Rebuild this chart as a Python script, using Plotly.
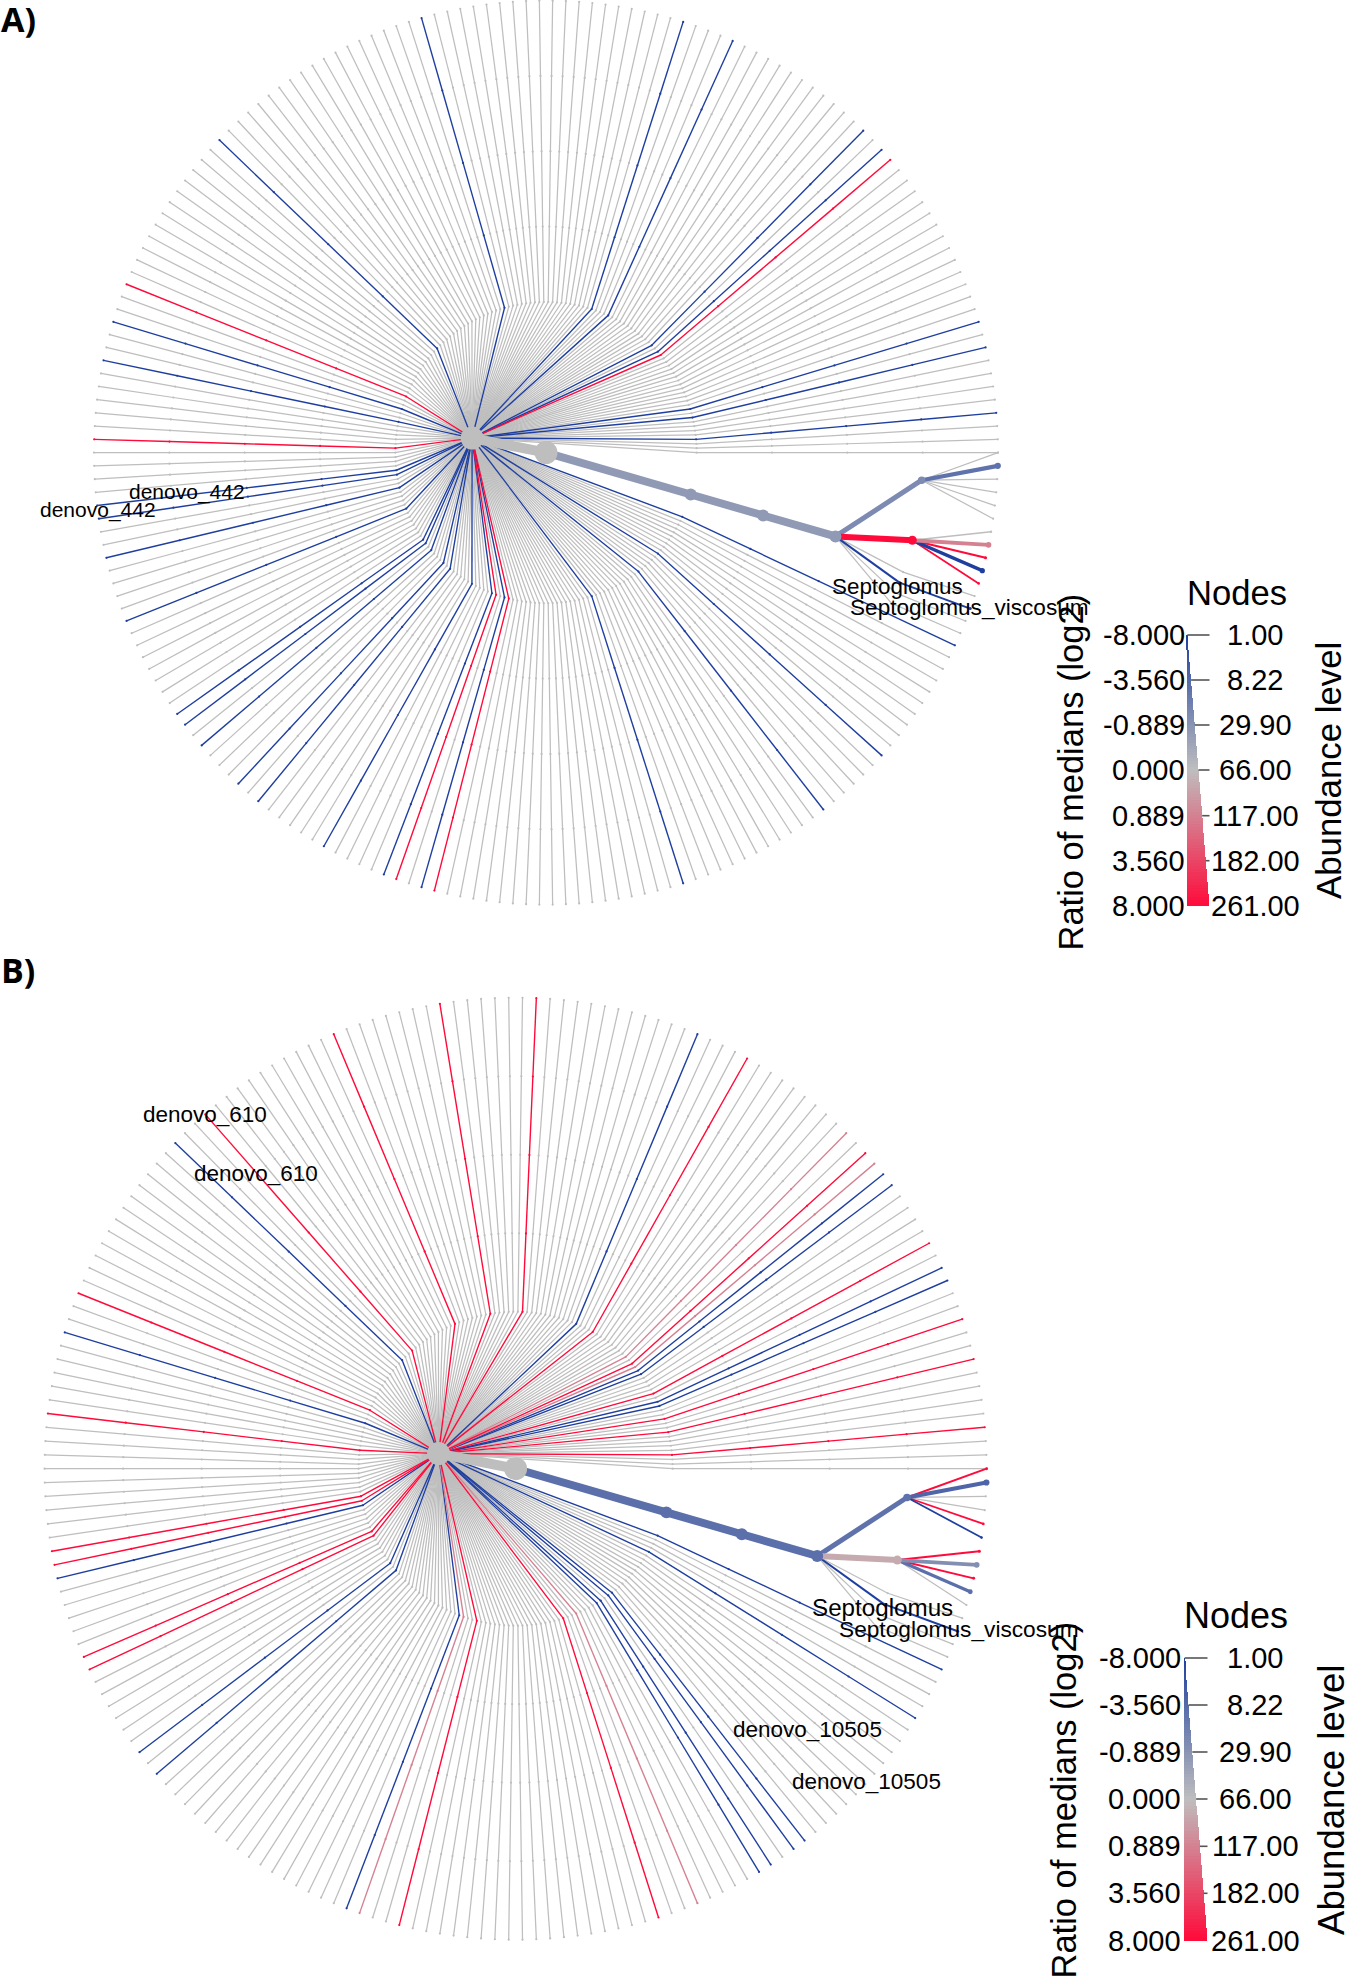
import numpy as np
import plotly.graph_objects as go

# ---------- data ----------
LEAF_SLOTS = 214            # leaf 214 closes the circle onto leaf 0
DEPTH = 6
BRANCH_A_LEAVES = [0, 1, 2, 3, 4, 5]
BRANCH_B_LEAVES = [6, 7, 8, 9, 10]
BRANCH_DIRECT_LEAVES = [11, 12, 13, 14]
HUB_LEAVES = list(range(15, 215))
TRUNK_SLOT = 9.6            # where the trunk lies, in leaf slots
HUB_SLOT = 113.6            # where the hub lies, in leaf slots

RATIO_TICKS = [-8.0, -3.56, -0.889, 0.0, 0.889, 3.56, 8.0]
RATIO_LABELS = ["-8.000", "-3.560", "-0.889", "0.000", "0.889", "3.560", "8.000"]
ABUND_LABELS = ["1.00", "8.22", "29.90", "66.00", "117.00", "182.00", "261.00"]

# panel A : leaves that differ from 0
A_NEG = [12, 15, 25, 31, 43, 63, 66, 71, 77, 79, 83, 85, 86, 94, 99, 102, 103, 114, 117,
         133, 151, 171, 175, 187, 189, 204, 206, 211]
A_POS = [62, 65, 108, 120, 190]
A_CLADE_RATIO = {"trunk": -0.75, "a": -1.5, "b": 8.0}
A_CLADE_ABUND = {"trunk": 261, "a": 90, "b": 135}
A_LEAF_RATIO = {1: -3.0, 7: 0.889, 8: 8.0, 9: -8.0, 10: 8.0}
A_LEAF_ABUND = {1: 55, 6: 3, 7: 45, 8: 7, 9: 35, 10: 4, 12: 7}

# panel B : leaves that differ from 0
B_NEG = [12, 15, 19, 31, 32, 34, 35, 66, 83, 85, 99, 117, 133, 174, 191, 192, 199, 200]
B_POS = [43, 62, 92, 93, 100, 101, 111, 120, 136, 147, 155, 162, 178, 189, 197, 203, 206, 211]
B_PALE = [40, 65, 187, 190]
B_CLADE_RATIO = {"trunk": -3.2, "a": -3.0, "b": 0.3}
B_CLADE_ABUND = {"trunk": 261, "a": 90, "b": 135}
B_LEAF_RATIO = {0: 8.0, 1: -4.0, 4: 8.0, 5: -8.0, 6: 8.0, 7: -1.2, 8: 8.0, 9: -3.2}
B_LEAF_ABUND = {0: 6, 1: 55, 4: 4, 5: 4, 6: 8, 7: 45, 8: 6, 9: 30, 12: 7}

# ---------- page geometry ----------
W, H = 1345, 1978
BLUE, GREY, RED = (31, 63, 159), (190, 190, 190), (255, 10, 58)


def colour(v):
    p = np.interp(v, RATIO_TICKS, np.arange(7)) / 3.0 - 1.0
    a, b = (GREY, BLUE) if p < 0 else (GREY, RED)
    t = abs(p)
    return "rgb(%d,%d,%d)" % tuple(int(round(a[k] + (b[k] - a[k]) * t)) for k in range(3))


def width_of(ab):
    return 0.85 + 0.44 * np.sqrt(ab)


def pos(depth, deg):
    t = np.deg2rad(deg)
    return depth * np.cos(t), depth * np.sin(t)


def leaf_angle(i):
    return i * 360.0 / LEAF_SLOTS


def build(neg, p0s, pale, clade_ratio, clade_abund, leaf_ratio, leaf_abund):
    """Return the list of links (start, end, ratio, abundance) of a radial tree."""
    ratio = {i: -8.0 for i in neg}
    ratio.update({i: 8.0 for i in p0s})
    ratio.update({i: 0.889 for i in pale})
    ratio.update(leaf_ratio)
    ab = {i: 1.5 for i in list(neg) + list(p0s) + list(pale)}
    ab.update(leaf_abund)

    links, nodes = [], []

    def add(s, e, r, a):
        links.append((s, e, r, a))
        nodes.append((e, r, a))

    root = pos(0, 0)
    hub = pos(1, leaf_angle(HUB_SLOT))
    # hub clade: hub -> ring 2 -> straight out to the rim
    for i in HUB_LEAVES:
        d = leaf_angle(i)
        r, a = ratio.get(i, 0.0), ab.get(i, 1)
        prev = hub
        for depth in range(2, DEPTH + 1):
            cur = pos(depth, d)
            add(prev, cur, r, a)
            prev = cur
    # named clade
    deg_a = np.mean([leaf_angle(i) for i in BRANCH_A_LEAVES])
    deg_b = np.mean([leaf_angle(i) for i in BRANCH_B_LEAVES])
    deg_t = leaf_angle(TRUNK_SLOT)
    tr, ta = clade_ratio["trunk"], clade_abund["trunk"]
    prev = root
    for depth in (2, 3, 4):
        cur = pos(depth, deg_t)
        add(prev, cur, tr, ta)
        prev = cur
    node4 = prev
    node_a, node_b = pos(5, deg_a), pos(5, deg_b)
    add(node4, node_a, clade_ratio["a"], clade_abund["a"])
    add(node4, node_b, clade_ratio["b"], clade_abund["b"])
    for i in BRANCH_A_LEAVES:
        add(node_a, pos(6, leaf_angle(i)), ratio.get(i, 0.0), ab.get(i, 1))
    for i in BRANCH_B_LEAVES:
        add(node_b, pos(6, leaf_angle(i)), ratio.get(i, 0.0), ab.get(i, 1))
    for i in BRANCH_DIRECT_LEAVES:
        d = leaf_angle(i)
        m = pos(5, d)
        add(node4, m, ratio.get(i, 0.0), ab.get(i, 1))
        add(m, pos(6, d), ratio.get(i, 0.0), ab.get(i, 1))
    return links, nodes, root, hub


def tree_traces(links, nodes, root, hub, xa, ya):
    out = []
    groups = {}
    for s, e, r, a in links:
        groups.setdefault((a, r), []).append((s, e))
    # grey thin first, coloured over it, thick last
    for (a, r) in sorted(groups, key=lambda k: (k[1] != 0, k[0])):
        xs, ys = [], []
        for s, e in groups[(a, r)]:
            xs += [s[0], e[0], None]
            ys += [s[1], e[1], None]
        w = 1.25 if a == 1 else float(width_of(a))
        out.append(go.Scatter(x=xs, y=ys, xaxis=xa, yaxis=ya, mode="lines", hoverinfo="skip",
                              line=dict(color=colour(r), width=w), showlegend=False))
    mg = {}
    for e, r, a in nodes:
        mg.setdefault((a, r), []).append(e)
    for (a, r) in sorted(mg, key=lambda k: (k[1] != 0, k[0])):
        pts = mg[(a, r)]
        size = 2.2 if a <= 2 else float(1.5 * width_of(a))
        out.append(go.Scatter(x=[p[0] for p in pts], y=[p[1] for p in pts], xaxis=xa, yaxis=ya,
                              mode="markers", hoverinfo="skip", showlegend=False,
                              marker=dict(color=colour(r), size=size, line=dict(width=0))))
    # root and hub
    out.append(go.Scatter(x=[root[0], hub[0]], y=[root[1], hub[1]], xaxis=xa, yaxis=ya, mode="lines+markers",
                          hoverinfo="skip", showlegend=False, line=dict(color=colour(0), width=10),
                          marker=dict(color=colour(0), size=23, line=dict(width=0))))
    return out


def legend_traces(ticks_y, x_left, x_right, xa, ya):
    y0, y1 = ticks_y[0], ticks_y[-1]
    n = 90
    ys = y0 + (np.arange(n) + 0.5) / n * (y1 - y0)
    fr = (ys - y0) / (y1 - y0)
    values = np.interp(fr * 6, np.arange(7), RATIO_TICKS)
    bar = go.Bar(y=ys, x=(x_right - x_left) * (0.03 + 0.97 * fr), base=x_left, orientation="h", width=(y1 - y0) / n * 1.08,
                 xaxis=xa, yaxis=ya, hoverinfo="skip", showlegend=False,
                 marker=dict(color=[colour(v) for v in values], line=dict(width=0)))
    tx, ty = [], []
    for k, t in enumerate(ticks_y[:-1]):
        f = k / 6.0
        tx += [x_left + (x_right - x_left) * (0.03 + 0.97 * f), x_right, None]
        ty += [t, t, None]
    tick = go.Scatter(x=tx, y=ty, xaxis=xa, yaxis=ya, mode="lines", hoverinfo="skip", showlegend=False,
                      line=dict(color="#555555", width=1.6))
    return [bar, tick]


FONT = "Liberation Sans"


def note(x, y, text, size, xanchor="center", angle=0, family=FONT, bold=False):
    t = "<b>%s</b>" % text if bold else text
    return dict(x=x, y=y, xref="x3", yref="y3", text=t, showarrow=False, xanchor=xanchor, yanchor="middle",
                textangle=angle, font=dict(family=family, size=size, color="#000000"),
                borderpad=0, borderwidth=0)


fig = go.Figure()

links, nodes, root, hub = build(A_NEG, A_POS, [], A_CLADE_RATIO, A_CLADE_ABUND, A_LEAF_RATIO, A_LEAF_ABUND)
for tr in tree_traces(links, nodes, root, hub, "x", "y"):
    fig.add_trace(tr)
links, nodes, root, hub = build(B_NEG, B_POS, B_PALE, B_CLADE_RATIO, B_CLADE_ABUND, B_LEAF_RATIO, B_LEAF_ABUND)
for tr in tree_traces(links, nodes, root, hub, "x2", "y2"):
    fig.add_trace(tr)

LEG_A_Y = [635, 680, 725, 770, 815.7, 860.7, 905.7]
LEG_B_Y = [1658, 1705, 1752, 1799, 1846.3, 1893.3, 1940.7]
for tr in legend_traces(LEG_A_Y, 1186.7, 1209.5, "x3", "y3"):
    fig.add_trace(tr)
for tr in legend_traces(LEG_B_Y, 1184, 1207.5, "x3", "y3"):
    fig.add_trace(tr)

notes = [
    note(1, 19, "A)", 34, "left", family="Open Sans", bold=True),
    note(1, 970, "B)", 34, "left", family="Open Sans", bold=True),
    note(186.5, 492, "denovo_442", 21),
    note(97.5, 510, "denovo_442", 21),
    note(897.5, 586, "Septoglomus", 22.4),
    note(969.5, 607, "Septoglomus_viscosum", 22.6),
    note(204.5, 1114, "denovo_610", 22.5),
    note(256, 1173, "denovo_610", 22.5),
    note(807.3, 1729, "denovo_10505", 22.5),
    note(866, 1781.5, "denovo_10505", 22.5),
    note(882.3, 1607, "Septoglomus", 24.2),
    note(958.5, 1629, "Septoglomus_viscosum", 22.7),
    note(1237, 593, "Nodes", 34.6),
    note(1070, 772.5, "Ratio of medians (log2)", 34.5, angle=-90),
    note(1328, 771, "Abundance level", 34.8, angle=-90),
    note(1236, 1615, "Nodes", 36),
    note(1063, 1800.5, "Ratio of medians (log2)", 34.5, angle=-90),
    note(1331, 1800, "Abundance level", 36.6, angle=-90),
]
for y, a, b in zip(LEG_A_Y, RATIO_LABELS, ABUND_LABELS):
    notes.append(note(1185, y, a, 29, "right"))
    notes.append(note(1255, y, b, 29))
for y, a, b in zip(LEG_B_Y, RATIO_LABELS, ABUND_LABELS):
    notes.append(note(1180.7, y, a, 29, "right"))
    notes.append(note(1255, y, b, 29))

U_A, CX_A, CY_A = 452.0 / DEPTH, 546.0, 452.6
U_B, CX_B, CY_B = 471.0 / DEPTH, 515.6, 1468.7


def hidden(rng, **kw):
    return dict(range=rng, visible=False, fixedrange=True, **kw)


fig.update_layout(
    width=W, height=H, autosize=False,
    margin=dict(l=0, r=0, t=0, b=0, pad=0),
    paper_bgcolor="white", plot_bgcolor="rgba(0,0,0,0)",
    showlegend=False, hovermode=False, bargap=0,
    annotations=notes,
    xaxis=hidden([(0 - CX_A) / U_A, (W - CX_A) / U_A], domain=[0, 1]),
    yaxis=hidden([(H - CY_A) / U_A, (0 - CY_A) / U_A], domain=[0, 1]),
    xaxis2=hidden([(0 - CX_B) / U_B, (W - CX_B) / U_B], overlaying="x"),
    yaxis2=hidden([(H - CY_B) / U_B, (0 - CY_B) / U_B], overlaying="y"),
    xaxis3=hidden([0, W], overlaying="x"),
    yaxis3=hidden([H, 0], overlaying="y"),
)

fig.write_html("out.html", config={"displayModeBar": False},
               post_script="document.body.style.margin='0';document.body.style.overflow='hidden';")
